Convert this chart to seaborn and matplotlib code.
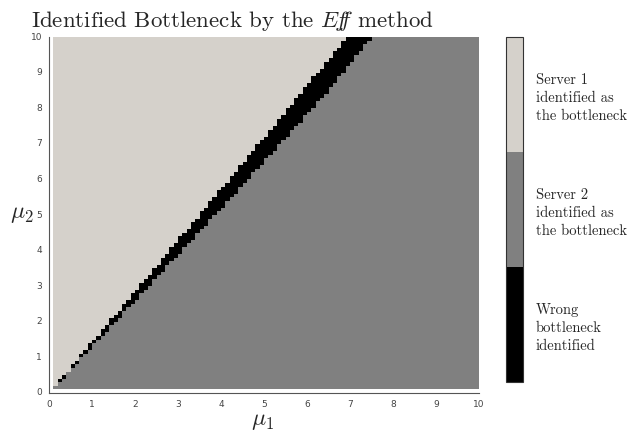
import numpy as np
import pandas as pd
import matplotlib
matplotlib.use("Agg")
import matplotlib.pyplot as plt
from matplotlib.colors import ListedColormap
import seaborn as sns

#%% Dati letti dal grafico
# bordi della banda nera (mu1 dove inizia / finisce la banda, per ogni mu2)
band_mu2 = [0, 1, 2, 3, 4, 5, 6, 7, 8, 9, 10]
band_from_mu1 = [0, 0.70, 1.41, 2.11, 2.80, 3.50, 4.19, 4.88, 5.57, 6.25, 6.93]
band_to_mu1 = [0, 0.78, 1.55, 2.32, 3.09, 3.86, 4.62, 5.38, 6.14, 6.84, 7.50]

class_labels = ["Wrong\nbottleneck\nidentified",
                "Server 2\nidentified as\nthe bottleneck",
                "Server 1\nidentified as\nthe bottleneck"]
class_colors = ["#000000", "#808080", "#d5d1cb"]
tick_values = list(range(0, 11))

#%% Griglia mu1 x mu2 (passo 0.1)
step = 0.1
n_cells = 100
centres = (np.arange(n_cells) + 0.5) * step

grid = np.full((n_cells, n_cells), np.nan)
for j in range(1, n_cells):
    mu2 = centres[j]
    left = np.interp(mu2, band_mu2, band_from_mu1)
    right = np.interp(mu2, band_mu2, band_to_mu1)
    for i in range(1, n_cells):
        mu1 = centres[i]
        if mu1 < left:
            grid[j, i] = 2
        elif mu1 <= right:
            grid[j, i] = 0
        else:
            grid[j, i] = 1

table = pd.DataFrame(grid, index=np.round(centres, 2), columns=np.round(centres, 2))

#%% Plot
sns.set_style("white")
plt.rcParams["mathtext.fontset"] = "cm"
plt.rcParams["axes.unicode_minus"] = False

fig = plt.figure(figsize=(6.31, 4.37), dpi=100)
ax = fig.add_axes([0.0777, 0.101, 0.6815, 0.814])
cax = fig.add_axes([0.802, 0.127, 0.027, 0.788])

sns.heatmap(table, ax=ax, cbar_ax=cax, cmap=ListedColormap(class_colors),
            vmin=-0.5, vmax=2.5, mask=np.isnan(grid))
ax.invert_yaxis()

ax.set_xticks([v / step for v in tick_values])
ax.set_xticklabels(tick_values, rotation=0)
ax.set_yticks([v / step for v in tick_values])
ax.set_yticklabels(tick_values, rotation=0)
ax.tick_params(axis="both", direction="out", length=3, width=0.8, colors="#555555",
               labelsize=6.5, pad=2, labelcolor="#444444")
ax.set_xlabel("")
ax.set_ylabel("")
for side in ["left", "bottom"]:
    ax.spines[side].set_visible(True)
    ax.spines[side].set_color("#555555")
    ax.spines[side].set_linewidth(0.8)

cbar = ax.collections[0].colorbar
cbar.set_ticks([0, 1, 2])
cbar.set_ticklabels(class_labels)
cbar.ax.tick_params(length=0, pad=9)
for lab in cbar.ax.get_yticklabels():
    lab.set_family("cmr10")
    lab.set_fontsize(10.5)
    lab.set_linespacing(1.4)
cbar.outline.set_visible(True)
cbar.outline.set_edgecolor("#333333")
cbar.outline.set_linewidth(0.8)

fig.text(0.368, 1 - 27 / 437, r"Identified Bottleneck by the $\mathit{E\!f\!\!f}$ method",
         ha="center", va="baseline", family="cmr10", fontsize=16.5)
fig.text(263 / 631, 1 - 420 / 437, r"$\mu_1$", ha="center", va="center", fontsize=17)
fig.text(22 / 631, 1 - 213 / 437, r"$\mu_2$", ha="center", va="center", fontsize=17)

fig.savefig("out.png", dpi=100)
